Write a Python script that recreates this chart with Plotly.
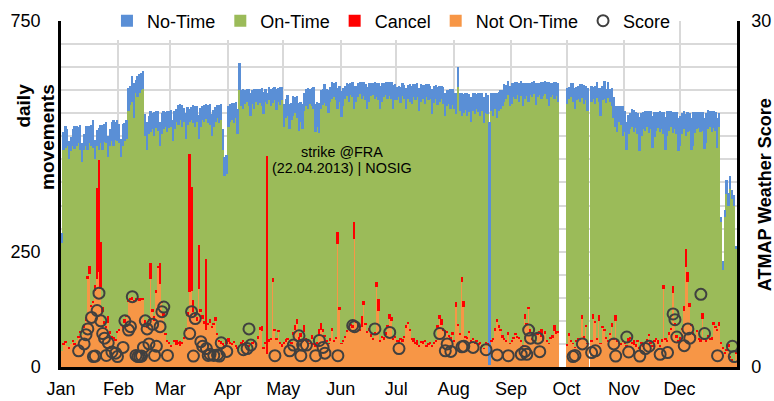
import numpy as np
import pandas as pd
import plotly.graph_objects as go

# ---- daily values for 2013 (one row per month) ----
on_time = [
 233,420,418,435,407,418,419,422,422,418,392,375,379,370,272,265,345,331,273,91,22,215,340,389,397,345,403,423,412,431,411,
 402,365,388,387,383,410,418,424,394,443,435,446,450,452,398,382,401,285,390,390,352,292,255,361,397,447,453,463,
 472,440,456,472,471,478,467,465,411,405,69,145,383,404,422,230,395,422,431,303,432,420,412,425,422,466,471,479,419,368,358,
 457,477,485,471,492,463,565,511,503,516,520,518,505,516,502,522,500,486,477,506,521,112,517,502,379,495,495,495,515,529,
 467,480,483,470,481,469,458,437,448,457,458,465,502,500,518,495,509,463,466,425,465,485,502,507,498,513,495,527,513,267,444,
 491,506,512,508,487,496,494,246,475,493,509,469,445,483,482,491,517,527,507,402,430,503,507,521,515,491,473,472,498,510,
 519,527,509,528,513,469,484,492,508,522,525,528,508,518,526,512,538,526,525,501,517,521,477,462,477,486,465,487,500,496,492,
 502,408,514,483,349,406,490,480,473,473,492,493,503,500,490,508,487,497,495,0,496,482,475,435,465,477,496,513,522,515,513,
 513,520,506,522,509,529,518,466,493,445,507,522,533,516,510,512,499,524,514,522,513,520,521,490,510,497,0,0,0,0,
 520,506,527,523,517,519,519,512,471,502,487,503,0,516,466,470,520,463,493,489,498,507,526,501,469,478,408,451,477,472,441,
 457,423,442,450,465,452,469,447,426,445,466,457,459,436,462,428,439,449,460,463,455,327,407,441,436,435,333,419,436,410,
 416,420,383,244,305,374,377,403,439,434,455,450,394,410,426,445,457,446,420,423,392,422,260,168,294,337,301,363,347,337,223,
]
no_time = [
 22,40,48,35,40,30,38,50,42,36,55,40,35,45,52,38,44,60,42,35,48,40,55,38,45,45,36,42,58,40,46,
 42,40,48,38,40,50,42,55,75,30,45,40,38,40,48,62,40,45,35,52,38,44,50,45,40,32,45,38,
 38,45,40,30,42,35,48,32,55,38,30,28,40,45,35,52,42,30,38,32,40,45,48,38,33,28,40,35,45,40,42,
 45,40,38,45,35,55,59,35,42,30,28,38,50,30,42,28,35,30,40,48,28,25,30,38,32,28,45,30,38,28,
 50,40,45,55,38,42,35,48,60,45,55,40,38,45,32,40,48,60,55,65,40,35,42,38,50,32,38,30,40,45,35,
 55,40,30,28,38,25,32,50,35,30,25,38,30,35,48,40,28,25,35,30,38,50,40,30,28,35,30,38,52,35,
 30,25,35,28,32,45,30,38,40,28,35,30,50,38,30,42,28,35,30,55,38,32,40,35,28,38,50,35,30,42,35,
 35,45,42,38,50,42,35,48,40,55,38,45,32,42,50,38,58,45,42,525,40,48,35,55,42,40,35,38,32,30,45,
 45,30,38,28,40,32,50,35,28,40,25,32,28,48,30,25,35,30,28,38,52,30,25,35,30,40,0,0,0,0,
 35,28,30,40,45,30,28,38,30,42,32,50,0,35,28,40,35,30,60,32,40,30,35,28,40,45,45,55,35,40,65,
 45,60,42,35,40,48,35,45,75,50,38,42,35,48,40,70,55,40,35,45,38,48,72,55,42,35,45,38,48,72,
 65,45,40,48,42,38,70,75,45,38,35,42,40,68,65,42,35,45,38,40,65,30,10,20,15,30,28,30,18,22,8,
]
not_on_time = [
 35,48,52,45,40,50,55,48,58,62,75,70,85,100,190,202,130,140,165,190,205,170,120,95,85,95,72,65,60,58,75,
 80,90,85,95,110,140,145,145,142,145,145,143,145,145,90,85,100,190,120,100,160,215,180,140,110,70,55,50,
 45,50,55,48,52,45,50,60,80,110,162,165,120,110,100,170,120,105,95,80,90,95,85,90,100,70,55,50,48,45,50,
 55,50,48,52,45,40,35,50,55,48,52,45,40,50,55,48,60,80,78,40,50,28,55,60,185,79,60,75,50,45,
 50,55,60,45,50,70,80,93,60,65,55,75,60,55,50,60,48,45,50,70,80,75,65,55,50,58,79,55,60,267,124,
 50,55,65,75,80,90,85,278,95,88,80,86,135,90,75,80,65,60,70,173,122,55,65,60,70,85,105,100,60,65,
 55,50,60,55,65,85,93,80,60,55,50,48,45,52,50,55,45,48,52,45,50,55,85,105,90,80,70,75,65,60,70,
 55,130,90,70,184,130,65,60,75,55,60,50,55,48,52,45,40,50,48,5,55,60,79,97,85,80,65,60,55,70,50,
 55,60,70,65,60,55,45,104,90,127,75,60,55,50,70,75,65,60,72,55,50,60,65,78,72,75,0,0,0,0,
 45,68,55,50,42,55,60,58,104,65,86,50,0,55,104,95,60,100,50,85,79,60,55,70,86,60,100,55,50,48,55,
 50,45,55,60,52,48,45,55,40,50,45,52,55,67,50,45,55,60,50,45,55,170,60,55,70,80,160,90,65,55,
 60,80,122,216,184,130,90,70,65,75,60,55,105,60,55,65,60,58,90,85,80,88,50,40,30,35,45,20,15,12,30,
]
cancel = [
 0,2,5,0,3,0,4,2,0,5,3,0,6,8,8,18,5,4,12,197,243,100,10,4,3,15,5,2,6,3,4,
 3,0,5,8,2,5,5,6,4,5,5,6,5,5,12,3,4,35,5,10,6,5,45,4,8,3,2,5,
 3,0,4,10,2,12,3,5,4,10,299,225,25,6,8,95,5,8,4,155,6,10,3,5,8,4,2,6,3,2,10,
 8,3,2,5,3,2,0,4,2,6,3,2,0,4,3,5,8,6,10,2,4,430,6,3,8,4,2,5,3,4,
 3,5,2,0,4,6,12,10,4,8,2,15,3,5,2,10,3,2,4,12,15,8,5,3,2,4,6,3,5,26,7,
 2,4,3,5,8,4,6,36,5,4,3,25,8,5,3,4,6,3,5,11,26,2,3,4,5,6,10,8,2,3,
 4,8,3,5,2,6,5,3,2,8,3,10,2,5,6,3,2,4,3,2,5,4,6,8,15,4,10,3,5,4,6,
 3,10,4,2,12,14,3,5,4,2,3,5,2,4,3,2,1,3,5,0,4,3,6,8,5,3,4,2,3,5,2,
 2,5,4,3,6,4,2,10,5,3,8,3,4,2,5,3,18,4,6,3,2,5,4,14,6,3,0,0,0,0,
 5,6,3,2,1,4,3,5,8,3,5,2,0,4,10,5,3,12,2,4,3,5,2,4,10,2,12,4,3,5,4,
 3,2,8,5,3,10,4,3,2,5,4,3,6,5,3,2,4,3,8,2,5,8,3,4,6,5,15,6,4,3,
 4,5,10,40,21,8,3,5,4,6,3,5,13,2,4,5,3,6,8,4,3,10,5,2,1,3,4,2,3,1,2,
]
# ATMAP weather score (day of year, score)
score_day = [9,12,13,14,16,17,18,19,20,21,22,23,24,25,27,29,30,
             33,34,36,37,38,40,41,42,43,44,45,46,47,49,50,51,53,54,55,57,
             69,70,71,72,75,76,78,79,80,82,84,85,86,89,
             98,100,101,102,115,123,125,128,129,130,132,137,139,141,142,149,
             157,158,169,177,182,204,207,208,210,216,217,222,229,235,241,
             248,250,251,252,253,257,258,276,277,281,286,288,298,299,
             305,306,312,315,317,323,327,330,331,332,336,338,339,345,347,354,362,363]
score_value = [1.4,2.0,2.8,3.3,4.3,0.9,0.95,4.9,6.4,4.0,2.9,2.5,1.0,2.1,1.3,1.2,0.9,
               1.7,4.0,3.2,3.5,6.1,1.0,0.9,0.9,0.95,1.7,4.0,3.3,2.0,3.7,1.0,1.8,3.5,4.8,5.2,1.0,
               2.9,4.8,0.95,4.2,2.2,1.8,1.6,1.0,1.1,1.0,1.05,0.95,2.1,1.35,
               1.5,1.6,3.3,1.9,0.98,1.4,1.9,2.7,0.98,1.9,1.9,0.98,2.3,1.7,1.2,0.98,
               3.6,3.5,3.3,3.0,1.6,2.9,1.4,2.0,1.35,1.75,1.8,1.7,1.5,1.05,0.98,
               1.1,1.35,1.1,3.2,2.5,2.5,1.33,0.9,1.0,2.0,1.25,1.4,2.0,0.95,
               2.6,1.3,0.95,1.6,1.8,1.1,1.25,4.6,4.1,2.6,1.85,3.3,2.5,6.3,2.9,0.98,1.8,0.9]

for arr in (on_time, no_time, not_on_time, cancel):
    assert len(arr) == 365, len(arr)
assert len(score_day) == len(score_value)

start = pd.Timestamp("2013-01-01")
days = pd.date_range(start, periods=365, freq="D") + pd.Timedelta(hours=12)
score_x = [start + pd.Timedelta(days=d, hours=12) for d in score_day]
month_starts = pd.date_range(start, periods=12, freq="MS")

# stacking offsets (stack order from bottom: Not On-Time, Cancel, On-Time, No-Time);
# Cancel is drawn last so that one-day spikes stay visible
O = np.array(not_on_time); R = np.array(cancel); G = np.array(on_time); B = np.array(no_time)
base_cancel = O
base_on = O + R
base_no = O + R + G

FONT = "Liberation Sans, Arial, sans-serif"
C_LATE, C_CANCEL, C_ON, C_NO = "#F79646", "#FF0000", "#9BBB59", "#5A8FD6"
fig = go.Figure()
fig.add_trace(go.Bar(x=days, y=O, base=np.zeros(365), name="Not On-Time",
                     marker=dict(color=C_LATE, line=dict(width=0)), legendrank=4))
fig.add_trace(go.Bar(x=days, y=G, base=base_on, name="On-Time",
                     marker=dict(color=C_ON, line=dict(width=0)), legendrank=2))
fig.add_trace(go.Bar(x=days, y=B, base=base_no, name="No-Time",
                     marker=dict(color=C_NO, line=dict(width=0)), legendrank=1))
fig.add_trace(go.Bar(x=days, y=R, base=base_cancel, name="Cancel",
                     marker=dict(color=C_CANCEL, line=dict(width=0)), legendrank=3))
fig.add_trace(go.Scatter(x=score_x, y=score_value, name="Score", mode="markers", yaxis="y2",
                         marker=dict(symbol="circle-open", size=11, color="#404040", line=dict(width=2, color="#404040")),
                         legendrank=5))

ytv = list(range(0, 751, 50))
ytt = [str(v) if v in (0, 250, 750) else "" for v in ytv]

fig.update_layout(
    width=774, height=401,
    margin=dict(l=61, r=37, t=21, b=34, autoexpand=False),
    paper_bgcolor="white", plot_bgcolor="white",
    barmode="overlay", bargap=0,
    font=dict(family=FONT, size=18, color="#000000"),
    showlegend=True,
    legend=dict(orientation="h", x=0.068, xanchor="left", y=1.0, yanchor="middle",
                bgcolor="white", font=dict(size=18), borderwidth=0,
                traceorder="normal", itemwidth=30),
    xaxis=dict(type="date", range=[start, pd.Timestamp("2014-01-01")],
               tickmode="array", tickvals=month_starts, tickformat="%b",
               showgrid=True, gridcolor="#d9d9d9", gridwidth=2,
               showline=True, linecolor="#000000", linewidth=2.5,
               ticks="", tickfont=dict(size=18), zeroline=False, automargin=False,
               ticklabelstandoff=4),
    yaxis=dict(range=[0, 750], tickmode="array", tickvals=ytv, ticktext=ytt,
               showgrid=True, gridcolor="#d9d9d9", gridwidth=2,
               showline=True, linecolor="#000000", linewidth=2.5,
               ticks="", tickfont=dict(size=18), zeroline=False, automargin=False,
               ticklabelstandoff=14),
    yaxis2=dict(range=[0, 30], overlaying="y", side="right", tickmode="array",
                tickvals=[0, 30], ticktext=["0", "30"], showgrid=False,
                showline=True, linecolor="#000000", linewidth=2.5,
                ticks="", tickfont=dict(size=18), zeroline=False, automargin=False,
                ticklabelstandoff=8),
    annotations=[
        dict(text="<b>daily<br>movements</b>", xref="paper", yref="paper", x=-0.038, y=0.666,
             textangle=-90, showarrow=False, align="right", font=dict(size=19), xanchor="center", yanchor="middle"),
        dict(text="<b>ATMAP Weather Score</b>", xref="paper", yref="paper", x=1.0407, y=0.498,
             textangle=-90, showarrow=False, font=dict(size=18), xanchor="center", yanchor="middle"),
        dict(text="strike @FRA", xref="paper", yref="paper", x=0.4157, y=0.6214,
             showarrow=False, font=dict(size=14.4), xanchor="center", yanchor="middle"),
        dict(text="(22.04.2013) | NOSIG", xref="paper", yref="paper", x=0.4157, y=0.5751,
             showarrow=False, font=dict(size=14.4), xanchor="center", yanchor="middle"),
    ],
)

fig.write_html("out.html", config={"displayModeBar": False},
               post_script="document.body.style.margin='0px';document.body.style.padding='0px';")
